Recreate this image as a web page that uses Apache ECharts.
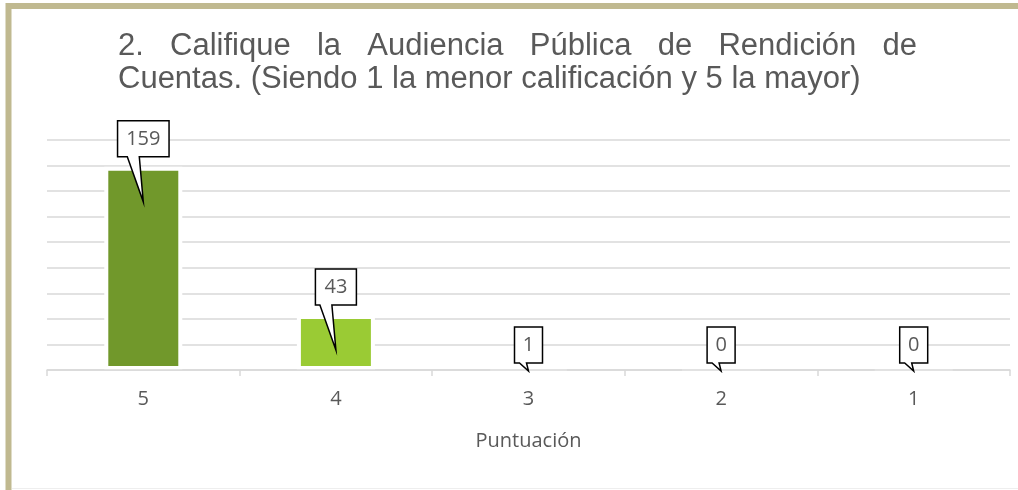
<!DOCTYPE html>
<html>
<head>
<meta charset="utf-8">
<script src="https://cdn.jsdelivr.net/npm/echarts@6/dist/echarts.min.js"></script>
<style>
  html, body { margin: 0; padding: 0; background: #ffffff; }
  #chart { width: 1018px; height: 490px; }
</style>
</head>
<body>
<div id="chart"></div>
<script>
// datos
const categories = ['5', '4', '3', '2', '1']
const counts = [159, 43, 1, 0, 0]
const titleLines = [
  '2. Califique la Audiencia Pública de Rendición de',
  'Cuentas. (Siendo 1 la menor calificación y 5 la mayor)'
]
const axisName = 'Puntuación'

const barColors = ['#71982b', '#9acb34', '#9acb34', '#9acb34', '#9acb34']
const textColor = '#595959'
const titleFont = '31px "Liberation Sans", Arial, sans-serif'
const labelFont = '20px "Open Sans", sans-serif'

// título justificado (la primera línea ocupa todo el ancho)
const ctx = document.createElement('canvas').getContext('2d')
ctx.font = titleFont
const titleLeft = 118
const titleRight = 917
const titleElements = []
const firstWords = titleLines[0].split(' ')
const wordsWidth = firstWords.reduce((s, w) => s + ctx.measureText(w).width, 0)
const gap = (titleRight - titleLeft - wordsWidth) / (firstWords.length - 1)
let xPos = titleLeft
firstWords.forEach((w) => {
  titleElements.push({
    type: 'text',
    x: xPos,
    y: 46,
    style: { text: w, font: titleFont, fill: textColor, verticalAlign: 'middle' }
  })
  xPos += ctx.measureText(w).width + gap
})
titleElements.push({
  type: 'text',
  x: titleLeft,
  y: 79,
  style: { text: titleLines[1], font: titleFont, fill: textColor, verticalAlign: 'middle' }
})

// llamadas (callouts) con la punta hacia la barra
const renderCallout = (params, api) => {
  const val = api.value(1)
  const top = api.coord([api.value(0), val])
  const base = api.coord([api.value(0), 0])
  const cx = top[0]
  const txt = String(val)
  const w = txt.length === 1 ? 28 : txt.length * 10.5 + 20
  const h = 36
  const tall = base[1] - top[1] > 20
  const bottom = tall ? top[1] - 10 : base[1] - 7
  const tipY = tall ? top[1] + 35 : base[1] + 1
  const tailL = tall ? cx - 16 : cx - 9
  const tailR = tall ? cx - 4 : cx - 2
  const L = cx - w / 2
  const R = cx + w / 2
  const T = bottom - h
  return {
    type: 'group',
    children: [
      {
        type: 'polygon',
        shape: { points: [[L, T], [R, T], [R, bottom], [tailR, bottom], [cx, tipY], [tailL, bottom], [L, bottom]] },
        style: { fill: '#ffffff', stroke: '#000000', lineWidth: 1.5 }
      },
      {
        type: 'text',
        style: { text: txt, x: cx, y: T + h / 2, align: 'center', verticalAlign: 'middle', fill: textColor, font: labelFont }
      }
    ]
  }
}

const myChart = echarts.init(document.getElementById('chart'))
const option = {
  backgroundColor: '#ffffff',
  animation: false,
  grid: { left: 47, right: 8, top: 140, bottom: 120 },
  graphic: [
    {
      type: 'rect',
      shape: { x: 8.5, y: 6, width: 1100, height: 600 },
      style: { fill: 'none', stroke: '#c0b990', lineWidth: 6 },
      z: 10
    },
    {
      type: 'line',
      shape: { x1: 12, y1: 488.5, x2: 1018, y2: 488.5 },
      style: { stroke: '#eeeeee', lineWidth: 1 }
    },
    ...titleElements
  ],
  xAxis: {
    type: 'category',
    data: categories,
    z: 3,
    name: axisName,
    nameLocation: 'middle',
    nameGap: 61,
    nameTextStyle: { color: textColor, fontSize: 20, fontFamily: 'Open Sans' },
    axisLine: { lineStyle: { color: '#d9d9d9', width: 1.5 } },
    axisTick: { show: true, length: 6, lineStyle: { color: '#d9d9d9', width: 1.5 } },
    axisLabel: { margin: 19, color: textColor, fontSize: 20, fontFamily: 'Open Sans' }
  },
  yAxis: {
    type: 'value',
    min: 0,
    max: 180,
    interval: 20,
    axisLine: { show: false },
    axisTick: { show: false },
    axisLabel: { show: false },
    splitLine: { lineStyle: { color: '#d9d9d9', width: 1.5 } }
  },
  series: [
    {
      type: 'bar',
      barWidth: 78,
      data: counts.map((v, i) => ({
        value: v,
        itemStyle: { color: barColors[i], borderColor: '#ffffff', borderWidth: 4 }
      }))
    },
    {
      type: 'custom',
      renderItem: renderCallout,
      data: counts.map((v, i) => [i, v]),
      encode: { x: 0, y: 1 },
      z: 5
    }
  ]
}
myChart.setOption(option)
addEventListener('resize', () => {
  myChart.resize()
})
</script>
</body>
</html>
